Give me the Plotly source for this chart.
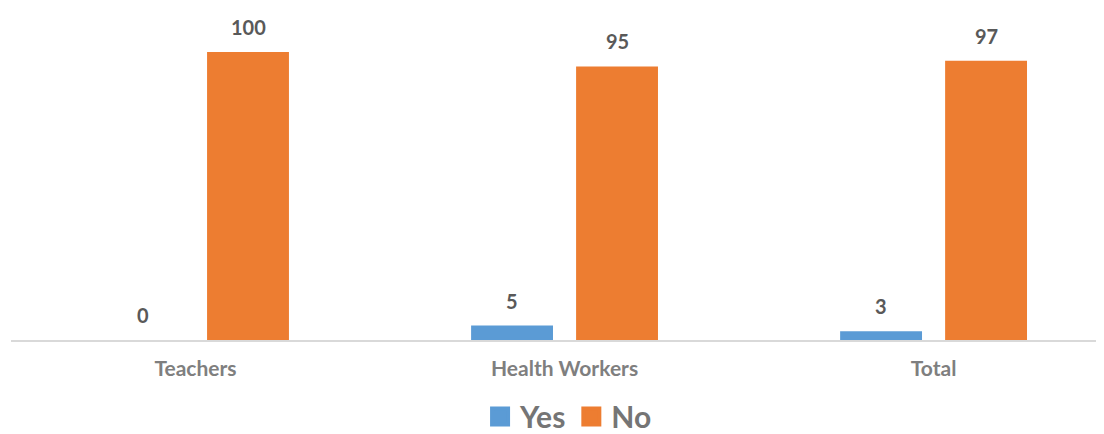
import plotly.graph_objects as go

categories = ["Teachers", "Health Workers", "Total"]
yes_values = [0, 5, 3]
no_values = [100, 95, 97]
series_names = ["Yes", "No"]
colors = ["#5B9BD5", "#ED7D31"]

FONT = "Lato"
bargap = 0.431
bargroupgap = 0.22
xs = list(range(len(categories)))
slot = (1 - bargap) / 2

fig = go.Figure()
for name, vals, col in zip(series_names, [yes_values, no_values], colors):
    fig.add_trace(go.Bar(x=xs, y=vals, name=name, marker_color=col,
                         marker_line_width=0, showlegend=False, hoverinfo="skip"))
    fig.add_trace(go.Scatter(x=[None], y=[None], mode="markers", name=name,
                             marker=dict(symbol="square", size=16, color=col,
                                         line=dict(color=col, width=4))))

annotations = []
for k, vals in enumerate([yes_values, no_values]):
    off = (k - 0.5) * slot
    for i, v in enumerate(vals):
        annotations.append(dict(x=xs[i] + off, y=v, text=f"<b>{v}</b>", showarrow=False,
                                yanchor="middle", yshift=25,
                                font=dict(family=FONT, size=20, color="#595959")))

fig.update_layout(
    width=1096, height=426,
    margin=dict(l=3, r=4, t=2, b=94, autoexpand=False),
    paper_bgcolor="white", plot_bgcolor="white",
    barmode="group", bargap=bargap, bargroupgap=bargroupgap,
    font=dict(family=FONT),
    xaxis=dict(range=[-0.5, 2.451], tickvals=xs,
               ticktext=[f"<b>{c}</b>" for c in categories],
               tickfont=dict(family=FONT, size=21, color="#7F7F7F"),
               showline=True, linecolor="#D9D9D9", linewidth=2,
               showgrid=False, zeroline=False, ticks="", ticklabelstandoff=9,
               automargin=False),
    yaxis=dict(range=[0, 114.6], visible=False, showgrid=False, zeroline=False,
               automargin=False),
    legend=dict(orientation="h", x=0.512, xanchor="center", y=-0.232, yanchor="middle",
                font=dict(family=FONT, size=30, color="#757575", weight="bold"),
                itemsizing="trace", borderwidth=0),
    annotations=annotations,
)

fig.write_html("out.html")
